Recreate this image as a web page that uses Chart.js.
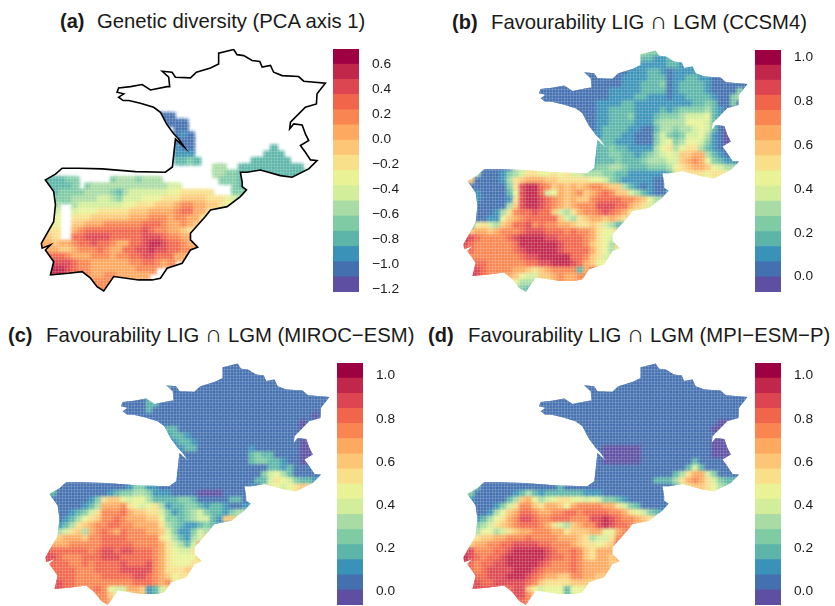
<!DOCTYPE html>
<html>
<head>
<meta charset="utf-8">
<title>Genetic diversity and favourability maps</title>
<script src="https://cdn.jsdelivr.net/npm/chart.js@4/dist/chart.umd.min.js"></script>
<style>
  html, body { margin: 0; padding: 0; background: #fff; }
  #page { position: relative; width: 835px; height: 606px; overflow: hidden; font-family: "Liberation Sans", sans-serif; color: #1a1a1a; }
  canvas { position: absolute; }
  .title { position: absolute; font-size: 20.3px; line-height: 24px; white-space: nowrap; }
  .title b { font-size: 20px; }
  .title span { font-family: "DejaVu Sans"; font-size: 24px; font-weight: 200; line-height: 20px; }
</style>
</head>
<body>
<div id="page"></div>
<script>
// Colour classes, lowest (0) to highest (f)
const levelColors = ['#5e4fa2', '#4470b0', '#3a92b8', '#5cb5a8', '#7ecba4', '#a9dca4', '#d3ee9b', '#e9f396',
    '#f8e08b', '#fdc676', '#fda95f', '#f98650', '#f1664a', '#dd4650', '#c1264b', '#9e0142'];

// Class edges of the colour bars
const diversityBreaks = [-1.224, -1.102, -0.981, -0.859, -0.738, -0.616, -0.495, -0.373, -0.252, -0.13, -0.009, 0.113, 0.234, 0.356, 0.477, 0.599, 0.72];
const ccsmBreaks = [-0.07, -0.001, 0.068, 0.137, 0.206, 0.275, 0.344, 0.413, 0.482, 0.551, 0.62, 0.689, 0.758, 0.827, 0.896, 0.964, 1.033];
const favourBreaks = [-0.065, 0.005, 0.075, 0.146, 0.216, 0.286, 0.356, 0.427, 0.497, 0.567, 0.637, 0.708, 0.778, 0.848, 0.918, 0.989, 1.059];

// Colour bar tick labels
const diversityTicks = [-1.2, -1.0, -0.8, -0.6, -0.4, -0.2, 0.0, 0.2, 0.4, 0.6];
const favourTicks = [0.0, 0.2, 0.4, 0.6, 0.8, 1.0];

// Outline of France and Iberia
const coastLon = [2.48, 2.69, 3.11, 3.63, 4.11, 4.26, 4.78, 4.98, 5.51, 6.54, 6.86, 8.21, 7.69, 7.65, 6.96, 6.03, 5.98, 6.23, 6.76, 6.96, 7.17, 6.65, 6.96, 7.28, 7.69, 7.17, 6.13, 5.40, 4.15, 3.32, 2.90, 3.01, 3.01, 3.28, 2.90, 2.07, 1.03, 0.71, -0.22, -0.22, 0.23, -0.22, -0.74, -1.68, -2.10, -2.62, -3.46, -5.02, -5.64, -6.06, -6.47, -6.99, -7.83, -8.97, -8.77, -9.29, -8.97, -9.49, -9.54, -8.77, -8.66, -8.77, -9.29, -8.66, -8.24, -7.21, -5.74, -3.66, -1.79, -1.35, -1.16, -0.60, -0.96, -1.27, -1.72, -2.10, -2.52, -3.35, -4.08, -4.43, -4.71, -4.39, -4.81, -4.71, -3.97, -3.24, -2.72, -1.68, -1.52, -1.58, -1.99, -1.37, -1.16, -0.22, 0.15, 1.03, 1.54, 1.54, 2.48];
const coastLat = [51.08, 50.76, 50.70, 50.39, 50.33, 49.98, 50.08, 49.66, 49.45, 49.39, 49.10, 48.98, 48.31, 47.68, 47.48, 46.54, 46.12, 46.43, 46.37, 45.81, 45.39, 45.08, 44.66, 44.18, 44.14, 43.62, 43.10, 43.20, 43.55, 43.41, 43.41, 42.79, 42.51, 42.31, 41.89, 41.26, 41.05, 40.64, 39.60, 39.18, 38.72, 38.55, 37.72, 37.41, 36.79, 36.68, 36.68, 36.89, 35.99, 36.26, 36.79, 37.20, 37.10, 36.99, 37.82, 38.55, 38.87, 38.66, 38.97, 40.32, 41.37, 42.20, 42.93, 43.29, 43.66, 43.66, 43.62, 43.45, 43.41, 43.74, 45.49, 44.97, 45.49, 45.81, 46.43, 47.16, 47.47, 47.72, 47.89, 47.89, 48.10, 48.31, 48.41, 48.68, 48.76, 48.89, 48.55, 48.76, 48.76, 49.35, 49.72, 49.66, 49.35, 49.31, 49.66, 49.93, 50.18, 50.85, 51.08];

// Raster rows, north to south: "first column: classes", '.' is no data
const diversityRows = [
    '', '', '', '', '', '', '', '', '', '',
    '18: 111',
    '19: 1111',
    '21: 11',
    '21: 121',
    '21: 111',
    '21: 211 ............ 3',
    '21: 222 ........... 333',
    '21: 3343 ........ 333333',
    '27: 55 .. 3333333333',
    '27: 5544 333333333333',
    '0: 3 33344 ..... 45554555 ......... 44433',
    '0: 3 33334 . 4555 55555555 566 ........ 4333',
    '1: 3 34444 55554 3 566666 677888 88 ... 4444',
    '1: 4 444555 56654 666777 8889 999888 7655',
    '1: 5 5 .. 56666 66677 88899 9abba a998 77',
    '1: 6 6 .. 677 788888 999aaa abcca a87 77',
    '0: 7 77 .. 88 899999 9aaabbb abbaa 8777',
    '0: 7 77 .. 99 aaabbb bbbcccb aaba9 888',
    '0: 8 88 .. ab cccccc cccdcb baa9888',
    '0: 998 .. ccdddd ccccc ddd cbbaa 999',
    '0: aa9 aa bccdcc baacc dee dccba aa99',
    '0: baa 99 abbbc baaccd ded dccbb aa9',
    '0: c cc cba aabbb abbcc ddc cca a',
    '0: e edd dcbbaa aaaabb ccb ab',
    '0: e eee d cbbaa aaaaab bb',
    '0: e eee dcbb aabb aaaa a',
    '7: bbbbaa',
    '8: bbbb'
];

const ccsmRows = [
    '27: 55443333',
    '26: 3333 2233 22111',
    '24: 1112 2222 33 2222 1111',
    '18: 1111111 1222 332 1 2222 211',
    '18: 1111111 2222 333 1 2233 22 1111',
    '18: 1111111 2223 334 1 2333 32 1111111',
    '12: 11111 11111122 2223 333 1 2333 32 1111 41',
    '12: 11111 11111122 2233 222 1 2233 33 211 45',
    '14: 111 11112222 3322 222 2 2223 34 311 41',
    '16: 1 11112233 3322 223 2 3444 45 3211',
    '18: 1112233 3422 234 4 4566 67 321',
    '19: 112233 3322 245 5 5577 76 31',
    '19: 112333 3221 135 5 4556 76 3100',
    '19: 122333 2211 146 4 3466 75 2100',
    '20: 23332 2211 146 7 4577 64 2100',
    '20: 23343 3222 257 8 5788 53 2110',
    '20: 23344 3323 456 7 699a a5 32111',
    '20: 23334 3334 555 6 69ab a7 43221',
    '3: 1111 ............. 34455 4333 444 5 789a a9 7655',
    '1: 75 1112 456 8877878665 55443 3222 222 3 88888 7887 7',
    '0: 89 11112 5 8 9aa a998 8888 77643 2222 211 2',
    '1: 111111 4 8 dee c b9 a9a9a bba99 5321 211 2',
    '1: 121111 3 7 dee c6 7 a9ab9 abcb9 9653 211 3',
    '1: 2 21111 2 8 dee dc ba9a99 b cccc bba9 7 5 5',
    '2: 11111 5 9 dee d cba 9abb bdddcca98 65',
    '2: 1112 5 8 b ccd c c9 65 8ab bcdcba876',
    '1: 11122 7 9 a bcccc c96 5 89a a9a98 543',
    '1: 2 7 8 6 5 9 a ccdb cbba a98 8986 53',
    '1: 9 a a9abb b cdddc ccbcbb a87 79 b',
    '0: e d cbbbbc dee eedd ccccb a876 c c',
    '0: dc bbbbbb ceeeeee dcccb 9875 9 a',
    '0: cc bbbbbbc deeeeed ccc c a875 75',
    '1: bb bbbbbbc ddeeee ecc b986',
    '1: dc cbbbbbbc cddee edc a97',
    '1: edc bbbba a9 8 9 abbb b3 a c 9',
    '1: edc bbaa 976 6 99ab aab b',
    '7: 875556',
    '8: 44332'
];

const mirocRows = [
    '27: 11111111',
    '26: 11111111111',
    '24: 1111111111111111',
    '18: 1 3 111111 1111111111111 11',
    '18: 1111111 1111111111111 1111111',
    '18: 1111111 1111111111111 11111111',
    '12: 1111 3 3 1111111111111111111111111 111',
    '12: 1111 3 1 1111111111111111111111111 14',
    '14: 111 1111111111111111111111111 0 14',
    '16: 2 11111111111111111111111 01',
    '18: 233 1111111111111111111 0 1',
    '19: 2332 111111111111111111',
    '19: 12332 1111111111111111 00',
    '19: 11233 11111111 2 111111 1 000',
    '20: 1111 11111111 3 4 3 3 1111 000',
    '20: 1111 11111111 344332 11 000',
    '20: 1111 1111111111 133 2 3 1111',
    '20: 1111 1111111111 4 6 7 5 3 11111',
    '3: 1111 ............. 1111 11111111 1 3 3 6 8 7 6 4 3 3 2',
    '1: 4 11111111111 2442 211 111111111111 2 1 5 77 6 7 8 9 8 8',
    '1: 3 11111111 2344 5542 22 1111 0000 111 1 2',
    '1: 111111 2 4 899 7 6775 3333 44 31111 1 3',
    '1: 1 11112 3 5 aaab 8 76 78 5 233 4432 33211 2',
    '1: 11123 4 6 8 bbbc a 998 86 42 3456 4332 45',
    '1: 1123 5 7 8 9 bbcb a aa99 7 443 4566 3 2 9',
    '1: 2 23 5 8 9 ab bccb baa aa8 54 322 3432',
    '1: 456 8 95 ab cbac bbbaa 96 4 22 465 8',
    '1: 79 aa a9b bcccc bbbbb 87 5 3 2 56 9',
    '1: aaa bbbbb ccccc bbbb a8 65 3 6 b',
    '0: dc cccccbc ddcdd cccb a8 766 8c c',
    '0: dd cbbbccc dddcc cccb a87 7779 b',
    '0: dc ccbbcbc cccdc ccdb a87 778 8',
    '1: cc ccbbbc cccdd dddb a88 89',
    '1: dc ccbbbb ccccc ddcb a97 8',
    '1: dd ccbbbb bbbbb cccb a b7',
    '1: dd ccbbb cb7 66 aa9 236 8',
    '7: cbb976',
    '8: bba98'
];

const mpiRows = [
    '27: 11111122',
    '26: 11111111111',
    '24: 1111111111111111',
    '18: 1111111111111 1111111111',
    '18: 1111111111111 111111111111',
    '18: 1111111111111 1111111111111 1',
    '12: 1111111111111111111111111111111 111',
    '12: 1111111111111111111111111111111 112',
    '14: 111111111111111111111111111 1 11',
    '16: 1111111111111111111111 1 10',
    '18: 111111111111111111111 00 0',
    '19: 11111111111111111111',
    '19: 1111111111111111111 1 000',
    '19: 111 000000 11111111 1 1 1 000',
    '20: 11 000000 11111111 1 1 1 000',
    '20: 11 000000 1111111 1 3 1 1 1 100',
    '20: 1111111111 11111 3 6 3 1 11111',
    '20: 1111111111 111 3 5 8 a a 6 4 1 11',
    '3: 1111 ............. 1111111111 3 3 3 5 8 a b a 8 6 4 3 3',
    '1: 5 3 1111 11111111 3 1111111111111 1111 3 6 8 9 9 8 7 5 4 3',
    '1: 4 111111 2353 23333 33222 1111111111',
    '1: 2 11111 35 9a 7 5 6788776 7644 32 111111',
    '2: 1112 46 8 bb 9 8 aa97 abb bbaa 86 43 1111',
    '2: 112 57 9a ccb aa bb ccb ccccb ba8 76 43 2',
    '2: 23 578 ab ddc bbc ccbb bdde dcbb a9 8',
    '1: 245 689 ab ccc ba8 65 9ab bde dcc ba',
    '1: 657 756 89 aabb baa8 99 9aa 77 ab c',
    '1: 889 9aa bbb cbb bbaa a98 566 8b c',
    '1: 9aa bbcc ddddc cbbb a98 8789 d',
    '0: ddb bbccd eeeeed cbb c b98 aaa c',
    '0: ed cbccde eeeeed ccb c b98 aa9a 8',
    '0: dc bccdde eeeedc bbb c baa aa9',
    '1: cb cdddd eeedc bbbb c baa aa',
    '1: dc cddde eedcb aa99 bba a9',
    '1: dd ccdddd dcb9 8888 9 99 8',
    '1: dd dddcc dd9 76 777 3 77',
    '7: dddb97',
    '8: ccb98'
];

const page = document.getElementById('page');

function addCanvas(left, top, width, height) {
    const canvas = document.createElement('canvas');
    canvas.style.left = left + 'px';
    canvas.style.top = top + 'px';
    canvas.style.width = width + 'px';
    canvas.style.height = height + 'px';
    canvas.width = width;
    canvas.height = height;
    page.appendChild(canvas);
    return canvas.getContext('2d');
}

function addTitle(letter, letterLeft, text, textLeft, top) {
    const a = document.createElement('div');
    a.className = 'title';
    a.style.left = letterLeft + 'px';
    a.style.top = top + 'px';
    a.innerHTML = '<b>' + letter + '</b>';
    page.appendChild(a);
    const t = document.createElement('div');
    t.className = 'title';
    t.style.left = textLeft + 'px';
    t.style.top = top + 'px';
    t.innerHTML = text.replace('\u2229', '<span>\u2229</span>');
    page.appendChild(t);
}

function rowsToGrid(rows) {
    return rows.map(row => {
        const cells = new Array(46).fill('.');
        if (!row) return cells;
        const parts = row.split(':');
        const first = parseInt(parts[0]);
        parts[1].replace(/ /g, '').split('').forEach((ch, i) => { cells[first + i] = ch; });
        return cells;
    });
}

// Copy edge cells outwards so the raster always reaches the coast clip
function padGrid(grid, times) {
    for (let t = 0; t < times; t++) {
        const source = grid.map(row => row.slice());
        source.forEach((row, r) => row.forEach((ch, c) => {
            if (ch !== '.') return;
            for (const [dr, dc] of [[0, -1], [0, 1], [-1, 0], [1, 0]]) {
                const near = source[r + dr] && source[r + dr][c + dc];
                if (near && near !== '.') { grid[r][c] = near; break; }
            }
        }));
    }
    return grid;
}

// Turn the grid into scatter points, cells are 0.4 degrees
function gridToPoints(grid) {
    const points = [];
    const colors = [];
    grid.forEach((row, r) => row.forEach((ch, c) => {
        if (ch === '.') return;
        points.push({ x: -9.4 + 0.4 * c, y: 50.9 - 0.4 * r });
        colors.push(levelColors[parseInt(ch, 16)]);
    }));
    return { points, colors };
}

// Clips the raster to the coast, softens the coarse cells and lays the fine light mesh over it
const coastClip = {
    id: 'coastClip',
    beforeDatasetDraw(chart, args) {
        if (args.index !== 1) return;
        const ctx = chart.ctx;
        const xs = chart.scales.x;
        const ys = chart.scales.y;
        ctx.save();
        ctx.beginPath();
        coastLon.forEach((lon, i) => {
            const px = xs.getPixelForValue(lon);
            const py = ys.getPixelForValue(coastLat[i]);
            if (i === 0) ctx.moveTo(px, py); else ctx.lineTo(px, py);
        });
        ctx.closePath();
        ctx.clip();
        ctx.filter = 'blur(1.5px)';
    },
    afterDatasetDraw(chart, args) {
        if (args.index !== 1) return;
        const ctx = chart.ctx;
        ctx.filter = 'none';
        ctx.strokeStyle = 'rgba(255,255,255,0.15)';
        ctx.lineWidth = 1;
        ctx.beginPath();
        for (let x = 0.5; x < chart.width; x += 3) { ctx.moveTo(x, 0); ctx.lineTo(x, chart.height); }
        for (let y = 0.5; y < chart.height; y += 3) { ctx.moveTo(0, y); ctx.lineTo(chart.width, y); }
        ctx.stroke();
        ctx.restore();
    }
};

function drawMap(left, top, rows, isOutlined) {
    let grid = rowsToGrid(rows);
    if (!isOutlined) grid = padGrid(grid, 2);
    const raster = gridToPoints(grid);
    new Chart(addCanvas(left, top, 298, 247), {
        type: 'scatter',
        data: {
            datasets: [
                {
                    data: isOutlined ? coastLon.map((lon, i) => ({ x: lon, y: coastLat[i] })) : [],
                    showLine: true,
                    borderColor: '#000',
                    borderWidth: 1.6,
                    pointRadius: 0,
                    tension: 0
                },
                {
                    data: raster.points,
                    pointStyle: 'rect',
                    pointRadius: 6,
                    pointBorderWidth: 0,
                    pointBackgroundColor: raster.colors
                }
            ]
        },
        options: {
            responsive: false,
            animation: false,
            layout: { padding: 0, autoPadding: false },
            plugins: { legend: { display: false }, tooltip: { enabled: false } },
            scales: {
                x: { type: 'linear', min: -10, max: 8.625, display: false },
                y: { type: 'linear', min: 35.8625, max: 51.3, display: false }
            }
        },
        plugins: [coastClip]
    });
}

function drawColorBar(left, top, height, breaks, ticks) {
    const datasets = levelColors.map((color, i) => ({
        data: [[breaks[i], breaks[i + 1]]],
        backgroundColor: color,
        borderWidth: 0,
        grouped: false,
        barPercentage: 1,
        categoryPercentage: 1
    }));
    // 10px spare above and below so the end labels are not cut
    new Chart(addCanvas(left, top - 10, 70, height + 20), {
        type: 'bar',
        data: { labels: [''], datasets },
        options: {
            responsive: false,
            animation: false,
            layout: { padding: { top: 10, bottom: 10 }, autoPadding: false },
            plugins: { legend: { display: false }, tooltip: { enabled: false } },
            scales: {
                x: { display: false },
                y: {
                    position: 'right',
                    min: breaks[0],
                    max: breaks[16],
                    grid: { display: false, drawTicks: false },
                    border: { display: false },
                    afterFit(scale) { scale.width = 44; scale.paddingTop = 0; scale.paddingBottom = 0; },
                    afterBuildTicks(scale) { scale.ticks = ticks.map(v => ({ value: v })); },
                    ticks: {
                        autoSkip: false,
                        padding: 13,
                        color: '#1a1a1a',
                        font: { family: '"Liberation Sans"', size: 13.7 },
                        callback: v => v.toFixed(1).replace('-', '\u2212')
                    }
                }
            }
        }
    });
}

addTitle('(a)', 60, 'Genetic diversity (PCA axis 1)', 97, 9);
addTitle('(b)', 452, 'Favourability LIG \u2229 LGM (CCSM4)', 491, 10);
addTitle('(c)', 8, 'Favourability LIG \u2229 LGM (MIROC\u2212ESM)', 46, 323);
addTitle('(d)', 428, 'Favourability LIG \u2229 LGM (MPI\u2212ESM\u2212P)', 468, 323);

drawMap(34, 46, diversityRows, true);
drawMap(456, 47, ccsmRows, false);
drawMap(38, 360, mirocRows, false);
drawMap(456, 360, mpiRows, false);

drawColorBar(333, 49, 243, diversityBreaks, diversityTicks);
drawColorBar(755, 50, 242, ccsmBreaks, favourTicks);
drawColorBar(337, 363, 242, favourBreaks, favourTicks);
drawColorBar(755, 363, 242, favourBreaks, favourTicks);
</script>
</body>
</html>
